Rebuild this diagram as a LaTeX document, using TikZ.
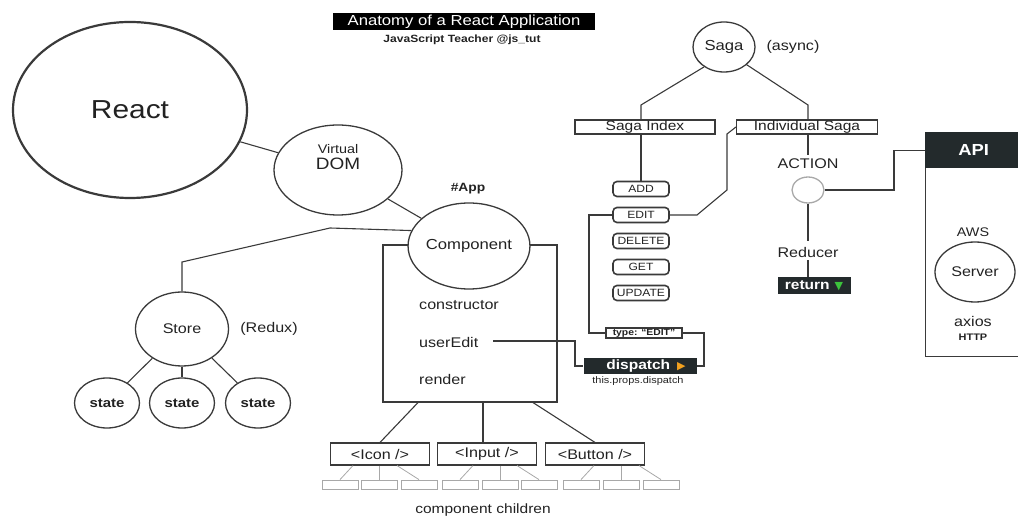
\documentclass[tikz,border=0pt]{standalone}
\usepackage{fontspec}
\setmainfont{Liberation Sans}[FakeStretch=1.15]
\newfontfamily\symf{DejaVu Sans}
\usetikzlibrary{shapes.geometric,calc}
\definecolor{linec}{HTML}{3A3A3A}
\definecolor{textc}{HTML}{222222}
\definecolor{darkc}{HTML}{232A2C}
\definecolor{lightc}{HTML}{A8A8A8}
\definecolor{orangec}{HTML}{F2A11F}
\definecolor{greenc}{HTML}{3CC43C}
\newcommand\fsz[1]{\fontsize{#1}{#1}\selectfont}
\begin{document}
\begin{tikzpicture}[x=1pt,y=-1pt,
  conn/.style={draw=linec,line width=1.1pt},
  ell/.style={ellipse,draw=linec,line width=1.3pt,fill=white,inner sep=0pt,text=textc},
  lbl/.style={inner sep=0pt,text=textc},
  sbox/.style={draw=linec,line width=1.1pt,fill=white,inner sep=0pt,text=textc},
  pill/.style={draw=linec,line width=1.6pt,rounded corners=4pt,minimum width=56pt,minimum height=15pt,inner sep=0pt,font=\fsz{10.5},text=textc},
  dbox/.style={fill=darkc,text=white,inner sep=0pt},
  kid/.style={draw=lightc,line width=0.8pt,minimum width=36pt,minimum height=9pt,inner sep=0pt},
  kidln/.style={draw=lightc,line width=0.8pt},
  childbox/.style={sbox,minimum width=99pt,minimum height=22pt,font=\fsz{14}},
]
\useasboundingbox (0,0) rectangle (1018,518);

% title
\node[fill=black,text=white,minimum width=262pt,minimum height=17pt,inner sep=0pt,font=\fsz{14.5}] (title) at (464,21.5) {Anatomy of a React Application};
\node[lbl,font=\bfseries\fsz{10.5}] (sub) at (462,40) {JavaScript Teacher @js\_tut};

% React / Virtual DOM
\node[ell,line width=2.2pt,minimum width=234pt,minimum height=176pt,font=\fsz{26}] (react) at (130,110) {React};
\node[ell,minimum width=128pt,minimum height=90pt] (vdom) at (338,170) {};
\node[lbl,align=center] (vdomt) at (338,157) {{\fsz{12.5}Virtual}\\[4pt]{\fsz{16.5}DOM}};
\draw[conn] (react) -- (vdom);

% Component
\node[draw=linec,line width=1.1pt,minimum width=174pt,minimum height=157pt,inner sep=0pt] (cbox) at (470,323.5) {};
\node[ell,minimum width=112pt,minimum height=86pt,font=\fsz{14.5}] (comp) at (469,246) {Component};
\node[lbl,font=\bfseries\fsz{12}] (app) at (468,189) {\#App};
\draw[conn] (vdom) -- (comp);
\node[lbl,anchor=west,font=\fsz{14}] (ctor) at (419,305) {constructor};
\node[lbl,anchor=west,font=\fsz{14}] (ue) at (419,342) {userEdit};
\node[lbl,anchor=west,font=\fsz{14}] (rend) at (419,379) {render};

% Store
\node[ell,minimum width=93pt,minimum height=74pt,font=\fsz{14}] (store) at (182,329) {Store};
\node[lbl,font=\fsz{14}] (redux) at (269,329) {(Redux)};
\coordinate (s1) at (330,228);
\coordinate (s2) at (182,262);
\draw[conn] (comp.165) -- (s1) -- (s2) -- (store.north);
\node[ell,minimum width=65pt,minimum height=50pt,font=\bfseries\fsz{13}] (st1) at (107,403) {state};
\node[ell,minimum width=65pt,minimum height=50pt,font=\bfseries\fsz{13}] (st2) at (182,403) {state};
\node[ell,minimum width=65pt,minimum height=50pt,font=\bfseries\fsz{13}] (st3) at (258,403) {state};
\draw[conn] (store) -- (st1);
\draw[conn] (store.south) -- (st2.north);
\draw[conn] (store) -- (st3);

% children
\node[childbox] (icon) at (380,454) {<Icon />};
\node[childbox] (input) at (487,454) {<Input />};
\node[childbox] (button) at (595,454) {<Button />};
\coordinate (cb1) at ([xshift=-52pt]cbox.south);
\coordinate (cb2) at ([xshift=13pt]cbox.south);
\coordinate (cb3) at ([xshift=63pt]cbox.south);
\draw[conn] (cb1) -- (icon.north);
\draw[conn] (cb2) -- (cb2 |- input.north);
\draw[conn] (cb3) -- (button.north);
\foreach \p/\a/\b/\c in {icon/340/379/419, input/460/500/539, button/581/621/661} {
  \node[kid] (\p-1) at (\a,484.5) {};
  \node[kid] (\p-2) at (\b,484.5) {};
  \node[kid] (\p-3) at (\c,484.5) {};
  \draw[kidln] ([xshift=13pt]\p-1.north |- \p.south) -- (\p-1.north);
  \draw[kidln] (\p-2.north |- \p.south) -- (\p-2.north);
  \draw[kidln] ([xshift=-22pt]\p-3.north |- \p.south) -- (\p-3.north);
}
\node[lbl,anchor=base,font=\fsz{13.5}] (cc) at (483,514) {component children};

% Saga
\node[ell,minimum width=62pt,minimum height=50pt,font=\fsz{14.5}] (saga) at (724,47) {Saga};
\node[lbl,font=\fsz{14}] (async) at (793,47) {(async)};
\node[sbox,minimum width=140pt,minimum height=14pt,font=\fsz{13.5}] (sidx) at (645,127) {Saga Index};
\node[sbox,minimum width=141pt,minimum height=14pt,font=\fsz{13.5}] (indiv) at (807,127) {Individual Saga};
\coordinate (sj1) at (641,105);
\coordinate (sj2) at (808,105);
\draw[conn] (saga.225) -- (sj1) -- (sj1 |- sidx.north);
\draw[conn] (saga.-38) -- (sj2) -- (sj2 |- indiv.north);

\node[pill] (add) at (641,189) {ADD};
\node[pill] (edit) at (641,215) {EDIT};
\node[pill] (del) at (641,241) {DELETE};
\node[pill] (get) at (641,267) {GET};
\node[pill] (upd) at (641,293) {UPDATE};
\draw[conn] (sidx.south -| add.north) -- (add.north);
\coordinate (e1) at (697,215);
\coordinate (e2) at (727,190);
\coordinate (e3) at (727,134);
\draw[conn] (edit.east) -- (e1) -- (e2) -- (e3) -- (indiv.west);

\node[sbox,minimum width=76pt,minimum height=10pt,font=\bfseries\fsz{9}] (type) at (644,333) {type: “EDIT”};
\node[dbox,minimum width=113pt,minimum height=16pt,font=\bfseries\fsz{13.5}] (disp) at (640,366) {\hspace*{12pt}dispatch\hspace{7pt}{\color{orangec}\symf\fsz{11}▶}};
\node[lbl,font=\fsz{9.5}] (tpd) at (638,381) {this.props.dispatch};
\coordinate (t1) at (589,215);
\coordinate (t2) at (704,333);
\draw[conn] (edit.west) -- (t1) |- (type.west);
\draw[conn] (type.east) -- (t2) |- (disp.east);
\coordinate (u1) at (493,341);
\coordinate (u2) at (575,341);
\draw[conn] (u1) -- (u2) |- (disp.west);

% Action / reducer
\node[lbl,font=\fsz{14}] (action) at (808,164) {ACTION};
\draw[conn] (indiv.south -| action.north) -- ([yshift=4pt]action.north);
\node[ell,draw=lightc,minimum width=32pt,minimum height=26pt] (acirc) at (808,190) {};
\node[lbl,font=\fsz{14}] (reducer) at (808,252) {Reducer};
\draw[conn] (acirc.south) -- ([yshift=6pt]reducer.north);
\node[dbox,minimum width=73pt,minimum height=17pt,font=\bfseries\fsz{13.5}] (ret) at (814,286) {return\hspace{5pt}{\color{greenc}\symf\fsz{11}▼}};
\draw[conn] ([yshift=-3pt]reducer.south) -- (reducer.south |- ret.north);

% API
\node[draw=linec,line width=1.1pt,minimum width=97pt,minimum height=224pt,inner sep=0pt,anchor=north west] (apibox) at (925,132) {};
\node[dbox,minimum width=97pt,minimum height=36pt,anchor=north west,font=\bfseries\fsz{16}] (apih) at (925,132) {API};
\coordinate (aj) at (894,170);
\draw[conn] (acirc.east) -| (aj) |- (apih.west);
\node[lbl,font=\fsz{12.5}] (aws) at (973,232) {AWS};
\node[ell,minimum width=80pt,minimum height=60pt,font=\fsz{14}] (server) at (975,272) {Server};
\node[lbl,font=\fsz{14}] (axios) at (973,321) {axios};
\node[lbl,font=\bfseries\fsz{9.5}] (http) at (973,337) {HTTP};
\end{tikzpicture}
\end{document}
